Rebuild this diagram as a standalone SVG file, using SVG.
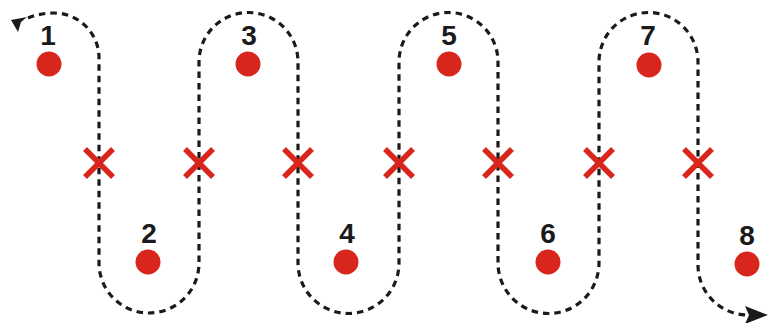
<svg xmlns="http://www.w3.org/2000/svg" width="768" height="323" viewBox="0 0 768 323">
<style>
.path{fill:none;stroke:#1a1a1a;stroke-width:3.2;stroke-dasharray:6.5 5}
.dot{fill:#d9261c}
.x{stroke:#d9261c;stroke-width:5.5;stroke-linecap:butt}
.lbl{font-family:"Liberation Sans",Arial,sans-serif;font-weight:bold;font-size:28px;fill:#1a1a1a;text-anchor:middle}
</style>
<defs>
<g id="xm"><line class="x" x1="-14" y1="-14" x2="14" y2="14"/><line class="x" x1="-14" y1="14" x2="14" y2="-14"/></g>
</defs>
<g id="connectors">
<path class="path" d="M 28,18 Q 40,13 54,13 A 45 45 0 0 1 99 58 V 263 A 50 50 0 0 0 199 263 V 62 A 49.5 49.5 0 0 1 298 62 V 263 A 50.5 50.5 0 0 0 399 263 V 62 A 49.5 49.5 0 0 1 498 62 V 263 A 50.5 50.5 0 0 0 599 263 V 62 A 49.5 49.5 0 0 1 698 62 V 265 A 50 50 0 0 0 748 315"/>
<polygon points="11,20 27,17 21,22 18,32" fill="#1a1a1a"/>
<polygon points="768,315 745,306 749,315 745,324" fill="#1a1a1a"/>
</g>
<g id="n1"><circle class="dot" cx="49" cy="64" r="12.5"/><text class="lbl" x="48" y="45">1</text></g>
<g id="n2"><circle class="dot" cx="148" cy="262" r="12.5"/><text class="lbl" x="149" y="243">2</text></g>
<g id="n3"><circle class="dot" cx="248" cy="64" r="12.5"/><text class="lbl" x="249" y="45">3</text></g>
<g id="n4"><circle class="dot" cx="346" cy="262" r="12.5"/><text class="lbl" x="347" y="243">4</text></g>
<g id="n5"><circle class="dot" cx="449" cy="64" r="12.5"/><text class="lbl" x="449" y="45">5</text></g>
<g id="n6"><circle class="dot" cx="548" cy="262" r="12.5"/><text class="lbl" x="548" y="243">6</text></g>
<g id="n7"><circle class="dot" cx="649" cy="65" r="12.5"/><text class="lbl" x="648" y="45">7</text></g>
<g id="n8"><circle class="dot" cx="747" cy="264" r="12.5"/><text class="lbl" x="747" y="245">8</text></g>
<g id="marks">
<use href="#xm" x="99" y="163"/><use href="#xm" x="199" y="163"/><use href="#xm" x="298" y="163"/><use href="#xm" x="399" y="163"/><use href="#xm" x="498" y="163"/><use href="#xm" x="599" y="163"/><use href="#xm" x="698" y="163"/>
</g>
</svg>
